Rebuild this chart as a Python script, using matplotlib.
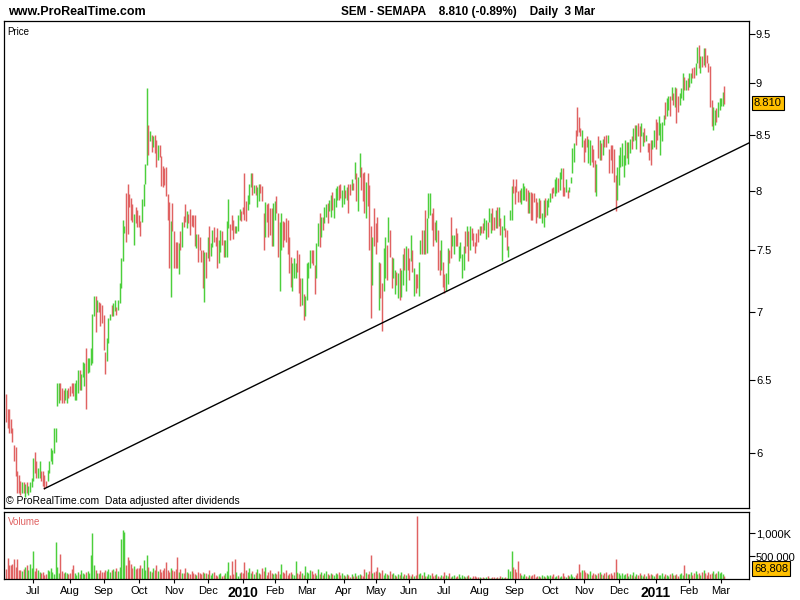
import numpy as np
import pandas as pd
import matplotlib
matplotlib.use('Agg')
import matplotlib.pyplot as plt
from matplotlib.ticker import NullLocator

plt.rcParams['font.family'] = ['Liberation Sans', 'DejaVu Sans']

# ---------------- data (daily bars, SEMAPA) ----------------
highs = [
    # Jun - Sep 2009
    6.40, 6.30, 6.30, 6.23, 6.17, 6.05, 6.04, 5.88, 5.86, 5.82,
    5.81, 5.81, 5.80, 5.81, 5.79, 5.81, 5.84, 5.97, 6.01, 5.95,
    5.90, 5.95, 5.88, 5.88, 5.86, 5.82, 5.89, 5.95, 6.03, 6.02,
    6.17, 6.17, 6.48, 6.48, 6.48, 6.44, 6.43, 6.44, 6.43, 6.44,
    6.46, 6.48, 6.48, 6.48, 6.50, 6.57, 6.57, 6.54, 6.63, 6.62,
    6.73, 6.66, 6.66, 6.73, 6.99, 7.13, 7.13, 7.10, 7.08, 7.07,
    7.06, 6.98, 6.70, 6.81, 6.96, 6.99, 7.06, 7.07, 7.10,
    7.04, 7.10, 7.23, 7.43, 7.75, 7.70, 7.98, 8.06, 7.97,
    # Oct 2009 - Jan 2010
    7.94, 7.88, 7.80, 7.86, 7.83, 7.79, 7.74, 7.93, 8.06, 8.24,
    8.95, 8.60, 8.54, 8.50, 8.49, 8.50, 8.46, 8.41, 8.41, 8.31,
    8.22, 8.20, 8.21, 7.97, 7.90, 7.74, 7.89, 7.65, 7.56, 7.56,
    7.55, 7.65, 7.73, 7.78, 7.88, 7.82, 7.80, 7.84, 7.79, 7.79,
    7.79, 7.63, 7.63, 7.60, 7.50, 7.50, 7.48, 7.48, 7.60, 7.70,
    7.55, 7.66, 7.69, 7.60, 7.68, 7.58, 7.66, 7.65, 7.58, 7.58,
    7.74, 7.93, 7.71, 7.79, 7.75, 7.70, 7.70, 7.79, 7.84,
    7.82, 7.86, 8.16, 7.91, 7.96, 8.06,
    # Jan - May 2010
    8.16, 8.16, 8.05, 8.05, 8.03, 8.06, 8.06, 8.04, 7.81,
    7.90, 7.88, 7.89, 7.85, 7.85, 7.89, 7.91, 7.95, 7.81, 7.73,
    7.81, 7.74, 7.73, 7.76, 7.75, 7.60, 7.44, 7.39, 7.43, 7.39,
    7.50, 7.46, 7.27, 7.27, 7.14, 7.13, 7.39, 7.40, 7.50, 7.50,
    7.50, 7.37, 7.55, 7.72, 7.81, 7.77, 7.77, 7.86, 7.88, 7.89,
    7.92, 7.96, 7.99, 7.94, 8.02, 8.04, 8.05, 8.06, 8.01, 8.05,
    8.01, 8.03, 8.06, 8.06, 8.10, 8.07, 8.26, 8.16, 8.12, 8.34,
    8.21, 8.16, 8.17, 8.08, 8.16, 8.05,
    # May - Aug 2010
    7.70, 7.60, 7.85, 7.72, 7.77, 7.40, 7.39, 7.23, 7.51, 7.60,
    7.54, 7.77, 7.66, 7.44, 7.43, 7.33, 7.32, 7.31, 7.35, 7.33,
    7.46, 7.51, 7.53, 7.51, 7.43, 7.62, 7.50, 7.35, 7.30, 7.30,
    7.40, 7.58, 7.66, 7.66, 7.83, 7.76, 7.98, 7.98, 7.81,
    7.85, 7.73, 7.75, 7.66, 7.50, 7.58, 7.40, 7.30, 7.31, 7.51,
    7.50, 7.77, 7.62, 7.62, 7.68, 7.64, 7.53, 7.56, 7.46, 7.53,
    7.65, 7.70, 7.65, 7.70, 7.68, 7.64, 7.56, 7.64, 7.67, 7.70,
    7.70, 7.72, 7.76, 7.75, 7.73, 7.85,
    # Aug - Nov 2010
    7.81, 7.85, 7.77, 7.83, 7.86, 7.86, 7.76, 7.70, 7.79, 7.68,
    7.66, 7.53, 7.83, 8.04, 8.10, 8.04, 8.10, 8.00, 8.01, 8.02,
    8.07, 8.04, 8.02, 8.01, 7.99, 7.99, 7.98, 7.98, 7.94,
    7.90, 7.94, 7.92, 7.81, 7.92, 7.94, 7.92, 7.94, 7.98, 8.02,
    8.03, 8.10, 8.12, 8.11, 8.17, 8.20, 8.20, 8.03, 8.10, 8.01,
    8.03, 8.12, 8.38, 8.43, 8.55, 8.77, 8.67, 8.57, 8.55, 8.46,
    8.48, 8.49, 8.47, 8.46, 8.41, 8.37, 8.27, 8.24, 8.49, 8.46,
    8.43, 8.47, 8.49, 8.50, 8.50, 8.37,
    # Nov 2010 - Mar 2011
    8.41, 8.41, 8.37, 8.14, 8.21, 8.32, 8.39, 8.43, 8.32, 8.46,
    8.44, 8.44, 8.47, 8.49, 8.57, 8.60, 8.60, 8.62, 8.59, 8.62,
    8.53, 8.57, 8.50, 8.43, 8.43, 8.46, 8.46, 8.55, 8.65,
    8.63, 8.68, 8.62, 8.63, 8.69, 8.82, 8.86, 8.88, 8.88, 8.96,
    8.90, 8.96, 8.95, 8.88, 8.90, 8.95, 9.10, 9.06, 9.03, 9.05,
    9.10, 9.10, 9.15, 9.16, 9.20, 9.37, 9.39, 9.27, 9.27, 9.36,
    9.36, 9.28, 9.20, 9.17, 8.84, 8.77, 8.74, 8.76, 8.82, 8.86,
    8.86, 8.91, 8.97,
]

lows = [
    6.21, 6.17, 6.13, 6.13, 6.07, 5.95, 5.85, 5.74, 5.74, 5.73,
    5.74, 5.74, 5.72, 5.74, 5.73, 5.75, 5.78, 5.82, 5.87, 5.84,
    5.84, 5.84, 5.82, 5.79, 5.77, 5.78, 5.82, 5.87, 5.95, 5.93,
    6.00, 6.07, 6.32, 6.34, 6.36, 6.34, 6.34, 6.36, 6.34, 6.37,
    6.39, 6.41, 6.39, 6.36, 6.36, 6.41, 6.43, 6.43, 6.52, 6.46,
    6.30, 6.55, 6.56, 6.61, 6.62, 6.97, 6.85, 7.00, 7.00, 6.90,
    6.92, 6.72, 6.54, 6.64, 6.77, 6.94, 6.97, 6.97, 7.01,
    6.98, 7.02, 7.07, 7.19, 7.41, 7.64, 7.56, 7.63, 7.86,
    7.75, 7.73, 7.54, 7.72, 7.69, 7.69, 7.61, 7.73, 7.87, 8.06,
    8.23, 8.32, 8.45, 8.35, 8.39, 8.34, 8.21, 8.27, 8.30, 8.04,
    8.03, 8.05, 7.95, 7.75, 7.35, 7.12, 7.65, 7.35, 7.35, 7.35,
    7.30, 7.50, 7.52, 7.69, 7.73, 7.68, 7.72, 7.62, 7.70, 7.69,
    7.53, 7.51, 7.40, 7.50, 7.40, 7.19, 7.08, 7.27, 7.43, 7.41,
    7.45, 7.52, 7.56, 7.53, 7.35, 7.39, 7.48, 7.54, 7.44, 7.44,
    7.44, 7.68, 7.58, 7.66, 7.59, 7.64, 7.64, 7.65, 7.75,
    7.74, 7.80, 7.75, 7.74, 7.83, 7.88,
    8.03, 7.96, 7.98, 7.96, 7.86, 7.91, 7.98, 7.91, 7.50,
    7.60, 7.73, 7.60, 7.62, 7.53, 7.53, 7.75, 7.81, 7.44, 7.17,
    7.50, 7.52, 7.58, 7.56, 7.46, 7.31, 7.20, 7.17, 7.27, 7.27,
    7.32, 7.15, 7.05, 7.06, 6.94, 6.97, 7.10, 7.27, 7.35, 7.39,
    7.37, 7.14, 7.27, 7.53, 7.52, 7.60, 7.66, 7.72, 7.77, 7.72,
    7.82, 7.77, 7.83, 7.76, 7.86, 7.92, 7.92, 7.94, 7.86, 7.88,
    7.94, 7.92, 7.81, 7.96, 8.01, 8.01, 8.10, 7.91, 7.82, 8.12,
    8.01, 7.91, 7.81, 7.76, 7.87, 7.50,
    6.96, 7.21, 7.53, 7.46, 7.56, 7.02, 7.11, 6.86, 7.17, 7.27,
    7.25, 7.56, 7.44, 7.19, 7.27, 7.14, 7.21, 7.11, 7.10, 7.12,
    7.21, 7.33, 7.17, 7.33, 7.25, 7.41, 7.32, 7.13, 7.15, 7.19,
    7.13, 7.46, 7.46, 7.46, 7.46, 7.47, 7.76, 7.79, 7.66,
    7.53, 7.58, 7.56, 7.33, 7.29, 7.33, 7.20, 7.15, 7.17, 7.22,
    7.39, 7.43, 7.53, 7.46, 7.53, 7.53, 7.41, 7.43, 7.27, 7.33,
    7.47, 7.53, 7.41, 7.50, 7.58, 7.53, 7.47, 7.53, 7.56, 7.62,
    7.64, 7.64, 7.66, 7.59, 7.60, 7.73,
    7.64, 7.66, 7.66, 7.68, 7.68, 7.70, 7.62, 7.41, 7.66, 7.60,
    7.50, 7.44, 7.75, 7.75, 7.98, 7.88, 7.99, 7.90, 7.90, 7.88,
    7.92, 7.92, 7.91, 7.81, 7.81, 7.75, 7.75, 7.90, 7.72,
    7.77, 7.76, 7.76, 7.72, 7.69, 7.77, 7.79, 7.86, 7.90, 7.94,
    7.98, 7.95, 7.98, 7.99, 8.01, 8.10, 7.95, 7.95, 7.99, 7.94,
    7.99, 8.07, 8.16, 8.26, 8.41, 8.49, 8.53, 8.49, 8.39, 8.26,
    8.35, 8.39, 8.25, 8.23, 8.26, 8.21, 7.99, 7.95, 8.29, 8.27,
    8.27, 8.32, 8.39, 8.39, 8.43, 8.16,
    8.27, 8.16, 8.08, 7.82, 7.92, 8.05, 8.21, 8.22, 8.12, 8.23,
    8.29, 8.24, 8.34, 8.37, 8.45, 8.46, 8.37, 8.49, 8.35, 8.49,
    8.40, 8.44, 8.45, 8.35, 8.27, 8.23, 8.37, 8.39, 8.37,
    8.46, 8.50, 8.32, 8.45, 8.60, 8.65, 8.68, 8.74, 8.68, 8.84,
    8.79, 8.77, 8.62, 8.72, 8.79, 8.86, 8.84, 8.93, 8.93, 8.93,
    8.96, 9.00, 9.05, 9.05, 9.08, 9.20, 9.15, 9.10, 9.16, 9.18,
    9.16, 9.20, 9.11, 8.77, 8.59, 8.55, 8.60, 8.63, 8.67, 8.74,
    8.78, 8.78, 8.80,
]

# u = up day (green), d = down day (red)
direction = (
    "dddddddddd" "ududuuuudd" "uudddduuuu" "uuuuddduud" "ddduuuduuu" "duuuuududd" "ddduuuduu" "duuuuuddd"
    "ddudddduuu" "udududdudd" "dddddudddd" "ududdudddd" "duddddudud" "uuddduuddu" "uudddduuu" "dddduu"
    "ududuuddd" "udddduuddu" "udddddduuu" "ddduduuuud" "dduududuud" "uuduuudduu" "duddududuu" "dddudd"
    "dudddudduu" "dudduududu" "ududdududd" "uududuuud" "dduddudduu" "dduudduuuu" "dududddddu" "dduudu"
    "uddududuud" "duuudddddu" "uuddudddd" "duduuduuud" "duuduuddud" "uuuuddddud" "dduudddudu" "duddud"
    "dddduuuuuu" "duudududdu" "ududdduud" "duuuuduudu" "dudduuudud" "uudduududu" "ddddduuduu" "uud"
)

# volume in thousands of shares, month by month
volume = [
    210, 460, 300, 300, 320, 440, 260, 440, 190, 190, 180, 220, 260, 300, 200, 335, 250,
    600, 180, 230, 200, 160, 120, 150, 90, 110, 200, 180, 230, 150, 110, 815, 260, 140, 535, 170, 120, 150, 130, 110,
    140, 210, 300, 120, 90, 160, 100, 200, 130, 100, 150, 170, 120, 515, 1000, 300, 190, 130, 120, 200, 150,
    160, 200, 180, 220, 150, 190, 210, 170, 250, 180, 260, 870, 1070, 1030, 300, 480, 420, 330, 250, 280, 220, 250,
    250, 300, 230, 405, 200, 515, 260, 180, 150, 230, 200, 310, 170, 220, 150, 200, 250, 370, 190, 160, 240, 200,
    180, 220, 475, 150, 210, 130, 120, 250, 160, 120, 100, 180, 140, 110, 90, 150, 130, 100, 160, 120, 140,
    100, 190, 80, 120, 150, 90, 70, 110, 130, 60, 90, 140, 170, 370, 80, 400, 110, 430, 150, 70, 120, 150,
    120, 370, 200, 150, 250, 130, 180, 110, 160, 210, 140, 100, 230, 170, 260, 90, 150, 200, 130, 110,
    140, 110, 180, 100, 335, 150, 120, 200, 90, 130, 160, 110, 80, 400, 120, 100, 170, 130, 90, 280,
    150, 120, 200, 180, 100, 130, 90, 220, 110, 150, 80, 120, 170, 100, 90, 140, 110, 80, 130, 100, 150, 90, 120,
    80, 60, 100, 90, 50, 110, 70, 120, 60, 90, 100, 80, 70, 225, 150, 110, 170, 515, 130, 160,
    180, 260, 150, 120, 200, 90, 140, 110, 80, 170, 100, 130, 90, 60, 110, 80, 150, 70, 100, 90, 120,
    90, 70, 110, 60, 80, 1370, 100, 120, 90, 150, 70, 60, 100, 80, 130, 60, 90, 110, 70, 50, 80, 60,
    150, 80, 60, 130, 50, 70, 90, 40, 60, 100, 50, 80, 70, 40, 60, 90, 50, 30, 70, 60, 40, 50,
    40, 30, 50, 20, 40, 60, 30, 25, 50, 35, 20, 45, 30, 60, 40, 25, 50, 30, 225, 180, 620, 260,
    225, 150, 385, 120, 80, 60, 100, 70, 50, 90, 60, 80, 100, 50, 70, 60, 40, 90, 70, 50, 80, 60,
    80, 60, 100, 50, 70, 90, 40, 60, 120, 70, 50, 80, 60, 100, 70, 50, 90, 130, 320, 160, 200,
    190, 150, 120, 100, 170, 90, 140, 110, 80, 130, 160, 100, 90, 120, 150, 80, 110, 130, 90, 160, 430, 150,
    120, 90, 140, 80, 100, 130, 70, 110, 90, 150, 60, 100, 80, 120, 90, 70, 110, 60, 130, 80, 100, 90, 70,
    100, 120, 80, 90, 130, 70, 110, 90, 60, 100, 120, 80, 90, 110, 70, 100, 130, 80, 300, 120, 100,
    110, 150, 90, 120, 180, 100, 140, 80, 160, 200, 120, 90, 150, 110, 130, 170, 100, 140, 180, 120,
    150, 110, 68.808,
]

last_price = 8.810
last_volume = "68,808"
holidays = ['2009-12-25', '2010-01-01', '2010-04-02', '2010-04-05']

# support line drawn on the chart (bar index, price)
trend_x = [24, 464.4]
trend_y = [5.77, 8.43]

price_ticks = [6, 6.5, 7, 7.5, 8, 8.5, 9, 9.5]
price_labels = ['6', '6.5', '7', '7.5', '8', '8.5', '9', '9.5']
vol_ticks = [500, 1000]
vol_labels = ['500,000', '1,000K']

GREEN = '#4ccf3c'
RED = '#e06262'

# ---------------- build ----------------
n = min(len(highs), len(lows), len(direction), len(volume))
dates = pd.bdate_range(end='2011-03-03', periods=n, freq='C', holidays=holidays)
x = np.arange(n)
colors = [GREEN if c == 'u' else RED for c in direction[:n]]

fig = plt.figure(figsize=(8, 6), dpi=100)
W, H = 800.0, 600.0
ax = fig.add_axes([4 / W, 1 - 508 / H, 745 / W, 487 / H])
axv = fig.add_axes([4 / W, 1 - 579 / H, 745 / W, 67 / H])

xlim = (-1.25, 464.4)

# price bars
ax.vlines(x, lows[:n], highs[:n], colors=colors, linewidth=1.05)
ax.plot(trend_x, trend_y, color='black', linewidth=1.0)
ax.set_yscale('log')
ax.set_ylim(5.649, 9.636)
ax.set_xlim(*xlim)
ax.yaxis.set_minor_locator(NullLocator())
ax.set_yticks(price_ticks)
ax.set_yticklabels(price_labels)
ax.yaxis.tick_right()
ax.set_xticks([])
ax.tick_params(axis='y', direction='out', length=4, width=0.8, labelsize=8, pad=1)

ax.text(0.005, 0.988, 'Price', transform=ax.transAxes, fontsize=7, va='top', ha='left')
ax.text(0.003, 0.004, '\u00a9 ProRealTime.com  Data adjusted after dividends',
        transform=ax.transAxes, fontsize=7.5, va='bottom', ha='left')
ax.text(1.0067, last_price, f'{last_price:.3f}', transform=ax.get_yaxis_transform(),
        fontsize=8, va='center', ha='left',
        bbox=dict(boxstyle='square,pad=0.18', fc='#ffc000', ec='black', lw=0.8))

# volume bars
axv.vlines(x, 0, volume[:n], colors=colors, linewidth=1.05)
axv.set_ylim(0, 1460)
axv.set_xlim(*xlim)
axv.set_yticks(vol_ticks)
axv.set_yticklabels(vol_labels)
axv.yaxis.tick_right()
axv.tick_params(axis='y', direction='out', length=4, width=0.8, labelsize=8, pad=1)
axv.text(0.005, 0.93, 'Volume', transform=axv.transAxes, fontsize=7, va='top', ha='left', color=RED)
axv.text(1.0067, 0.16, last_volume, transform=axv.transAxes, fontsize=8, va='center', ha='left',
         bbox=dict(boxstyle='square,pad=0.2', fc='#ffc000', ec='black', lw=0.8))

# month ticks at first trading day of each month
month_idx = [i for i in range(1, n) if dates[i].month != dates[i - 1].month]
month_lab = [str(dates[i].year) if dates[i].month == 1 else dates[i].strftime('%b') for i in month_idx]
axv.set_xticks(month_idx)
axv.set_xticklabels(month_lab)
axv.tick_params(axis='x', direction='out', length=3, width=0.8, labelsize=8, pad=2)
for lbl in axv.get_xticklabels():
    if lbl.get_text().isdigit():
        lbl.set_fontweight('bold')
        lbl.set_fontsize(10)

for a in (ax, axv):
    for s in a.spines.values():
        s.set_linewidth(0.9)

# header
fig.text(8 / W, 1 - 12 / H, 'www.ProRealTime.com', fontsize=9, fontweight='bold', va='center', ha='left')
fig.text(468 / W, 1 - 12 / H, 'SEM - SEMAPA    8.810 (-0.89%)    Daily  3 Mar',
         fontsize=8.5, fontweight='bold', va='center', ha='center')

fig.savefig('out.png', dpi=100, facecolor='white')
